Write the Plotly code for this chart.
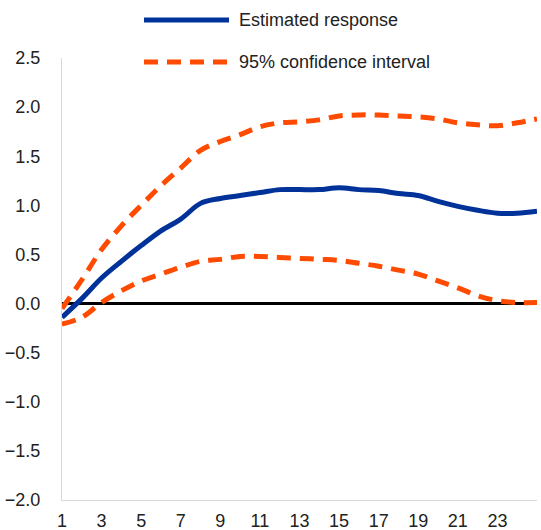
import plotly.graph_objects as go

periods = list(range(1, 26))
estimated = [-0.14, 0.05, 0.26, 0.43, 0.59, 0.74, 0.86, 1.02, 1.07, 1.10, 1.13, 1.16, 1.16, 1.16, 1.18, 1.16, 1.15, 1.12, 1.10, 1.04, 0.99, 0.95, 0.92, 0.92, 0.94]
upper_ci = [-0.05, 0.24, 0.55, 0.79, 1.00, 1.20, 1.38, 1.56, 1.65, 1.72, 1.80, 1.84, 1.85, 1.87, 1.91, 1.92, 1.92, 1.91, 1.90, 1.88, 1.84, 1.82, 1.81, 1.84, 1.88]
lower_ci = [-0.21, -0.14, 0.01, 0.13, 0.23, 0.30, 0.37, 0.43, 0.45, 0.48, 0.48, 0.47, 0.46, 0.45, 0.44, 0.41, 0.38, 0.34, 0.30, 0.23, 0.16, 0.08, 0.03, 0.01, 0.01]

x_tick_vals = list(range(1, 24, 2))
y_tick_vals = [-2.0, -1.5, -1.0, -0.5, 0.0, 0.5, 1.0, 1.5, 2.0, 2.5]

BLUE = "#003299"
ORANGE = "#FF4B00"
FONT = "Liberation Sans, Arial, sans-serif"

fig = go.Figure()
for ci in (upper_ci, lower_ci):
    fig.add_trace(go.Scatter(x=periods, y=ci, mode="lines", line_shape="spline",
                             line=dict(color=ORANGE, width=5, dash="14px,9px"),
                             showlegend=False, hoverinfo="skip"))
fig.add_trace(go.Scatter(x=periods, y=estimated, mode="lines", line_shape="spline",
                         line=dict(color=BLUE, width=5), showlegend=False))

# manual legend
legend_items = [("Estimated response", BLUE, "solid", 1.086),
                ("95% confidence interval", ORANGE, "14px,9px", 0.991)]
for label, color, dash, yy in legend_items:
    fig.add_shape(type="line", xref="paper", yref="paper", x0=0.1726, x1=0.3516, y0=yy, y1=yy,
                  line=dict(color=color, width=5, dash=dash))
    fig.add_annotation(xref="paper", yref="paper", x=0.3684, y=yy, text=label, showarrow=False,
                       xanchor="left", yanchor="middle", font=dict(family=FONT, size=18, color="#222"))

fig.update_layout(
    width=541, height=530,
    margin=dict(l=62, r=4, t=58, b=30),
    paper_bgcolor="white", plot_bgcolor="white",
    font=dict(family=FONT, size=18, color="#222"),
)
fig.update_xaxes(range=[1, 25], tickvals=x_tick_vals, showgrid=False, zeroline=False, automargin=False,
                 showline=True, linecolor="#d9d9d9", linewidth=1, ticks="", ticklabelstandoff=4)
fig.update_yaxes(range=[-2, 2.5], tickvals=y_tick_vals, tickformat=".1f", showgrid=False, automargin=False,
                 zeroline=True, zerolinecolor="black", zerolinewidth=2.5,
                 showline=True, linecolor="#d9d9d9", linewidth=1, ticks="", ticklabelstandoff=17)

fig.write_html("out.html", config={"displayModeBar": False},
               post_script="document.body.style.margin='0';document.body.style.overflow='hidden';")
